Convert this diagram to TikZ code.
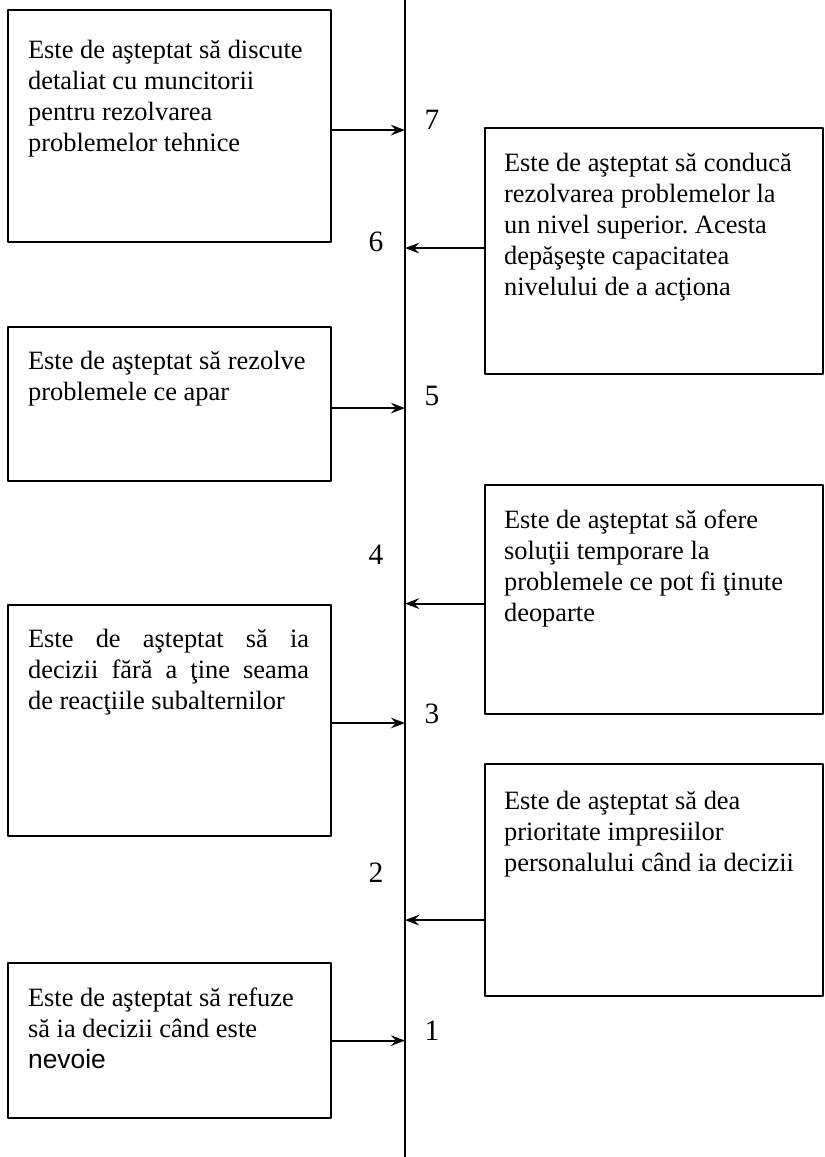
\documentclass[tikz,border=0pt]{standalone}
\usepackage{fontspec}
\setmainfont{Liberation Serif}
\newfontfamily\sansfont{Liberation Sans}
\usetikzlibrary{arrows.meta}
\frenchspacing
\begin{document}
\begin{tikzpicture}[x=0.025cm, y=-0.025cm, line width=1.5pt, line join=round,
  >={Stealth[length=10pt,width=7.5pt,inset=3.5pt]},
  font=\fontsize{18.8}{22}\selectfont,
  box/.style={draw, rectangle, inner sep=0pt, anchor=north west},
  txt/.style={anchor=north west, inner sep=0pt, align=left},
  num/.style={font=\fontsize{21}{24}\selectfont, inner sep=0pt}]
\useasboundingbox (0,0) rectangle (824,1157);
% the axis
\coordinate (top) at (405,0);
\coordinate (bottom) at (405,1157);
\draw (top) -- (bottom);
% left boxes
\node[box, minimum width=8.075cm, minimum height=5.8cm] (b7) at (7,9) {};
\node[box, minimum width=8.075cm, minimum height=3.85cm] (b5) at (7,326) {};
\node[box, minimum width=8.075cm, minimum height=5.775cm] (b3) at (7,604) {};
\node[box, minimum width=8.075cm, minimum height=3.875cm] (b1) at (7,962) {};
% right boxes
\node[box, minimum width=8.45cm, minimum height=6.15cm] (b6) at (484,127) {};
\node[box, minimum width=8.45cm, minimum height=5.725cm] (b4) at (484,484) {};
\node[box, minimum width=8.45cm, minimum height=5.8cm] (b2) at (484,763) {};
% texts
\node[txt] (t7) at (27,39) {Este de aşteptat să discute\\detaliat cu muncitorii\\pentru rezolvarea\\problemelor tehnice};
\node[txt] (t5) at (27,350) {Este de aşteptat să rezolve\\problemele ce apar};
\node[txt] (t3) at (27,628) {\makebox[7.025cm][s]{Este de aşteptat să ia}\\\makebox[7.025cm][s]{decizii fără a ţine seama}\\de reacţiile subalternilor};
\node[txt] (t1) at (27,987) {Este de aşteptat să refuze\\să ia decizii când este\\{\sansfont nevoie}};
\node[txt] (t6) at (503,152) {Este de aşteptat să conducă\\rezolvarea problemelor la\\un nivel superior. Acesta\\depăşeşte capacitatea\\nivelului de a acţiona};
\node[txt] (t4) at (503,509) {Este de aşteptat să ofere\\soluţii temporare la\\problemele ce pot fi ţinute\\deoparte};
\node[txt] (t2) at (503,790) {Este de aşteptat să dea\\prioritate impresiilor\\personalului când ia decizii};
% arrows
\draw[->] ([yshift=-0.1cm]b7.east) -- ([yshift=-0.1cm]b7.east -| top);
\draw[->] ([yshift=-0.1cm]b5.east) -- ([yshift=-0.1cm]b5.east -| top);
\draw[->] ([yshift=-0.06cm]b3.east) -- ([yshift=-0.06cm]b3.east -| top);
\draw[->] (b1.east) -- (b1.east -| top);
\draw[->] ([yshift=0.075cm]b6.west) -- ([yshift=0.075cm]b6.west -| top);
\draw[->] ([yshift=-0.1cm]b4.west) -- ([yshift=-0.1cm]b4.west -| top);
\draw[->] ([yshift=-1cm]b2.west) -- ([yshift=-1cm]b2.west -| top);
% levels
\node[num] (n7) at (432,120) {7};
\node[num] (n6) at (376,242) {6};
\node[num] (n5) at (432,396) {5};
\node[num] (n4) at (376,555) {4};
\node[num] (n3) at (432,714) {3};
\node[num] (n2) at (376,873) {2};
\node[num] (n1) at (432,1031) {1};
\end{tikzpicture}
\end{document}
